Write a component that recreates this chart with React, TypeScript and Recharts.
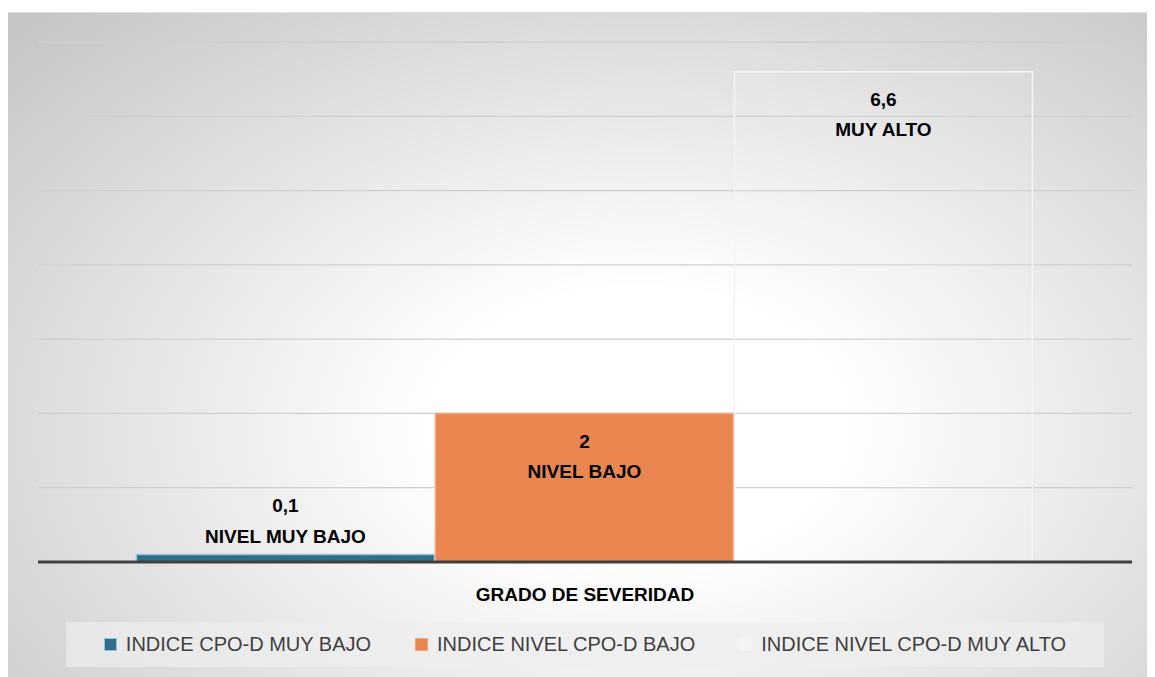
import React from "react";
import { BarChart, Bar, XAxis, YAxis, CartesianGrid, Legend, LabelList } from "recharts";

const categories = ["GRADO DE SEVERIDAD"];
const muyBajo = [0.1];
const bajo = [2];
const muyAlto = [6.6];
const yTicks = [0, 1, 2, 3, 4, 5, 6, 7];

const series = [
  { key: "muyBajo", name: "INDICE CPO-D MUY BAJO", level: "NIVEL MUY BAJO", fill: "#2e6f8e", stroke: "#9cc4d8", fillOpacity: 1 },
  { key: "bajo", name: "INDICE NIVEL CPO-D BAJO", level: "NIVEL BAJO", fill: "#eb8650", stroke: "#f2a67c", fillOpacity: 1 },
  { key: "muyAlto", name: "INDICE NIVEL CPO-D MUY ALTO", level: "MUY ALTO", fill: "#ffffff", stroke: "#f4f4f4", fillOpacity: 0.08 },
];

const data = categories.map((name, i) => ({
  name,
  muyBajo: muyBajo[i],
  bajo: bajo[i],
  muyAlto: muyAlto[i],
}));

const FONT = "'Liberation Sans', Arial, sans-serif";

// two-line label: value + level text; inside the top of tall bars, above short ones
const makeLabel = (level: string) => (props: any) => {
  const { x, y, width, height, value } = props;
  const cx = x + width / 2;
  const inside = height > 60;
  const y1 = inside ? y + 28 : y - 49;
  const y2 = inside ? y + 58 : y - 18;
  const txt = String(value).replace(".", ",");
  return (
    <g fontFamily={FONT} fontWeight="bold" fontSize={19} fill="#000">
      <text x={cx} y={y1} textAnchor="middle" dominantBaseline="central">{txt}</text>
      <text x={cx} y={y2} textAnchor="middle" dominantBaseline="central">{level}</text>
    </g>
  );
};

const renderLegend = () => (
  <div
    style={{
      width: 1038,
      height: 45,
      marginLeft: 28,
      background: "rgba(238,238,238,0.7)",
      display: "flex",
      alignItems: "center",
      justifyContent: "center",
      gap: 44,
      fontFamily: FONT,
      fontSize: 20,
      color: "#404040",
    }}
  >
    {series.map((s) => (
      <span key={s.key} style={{ display: "flex", alignItems: "center" }}>
        <span
          style={{
            display: "inline-block",
            width: 11,
            height: 11,
            marginRight: 9,
            background: s.key === "muyAlto" ? "rgba(255,255,255,0.3)" : s.fill,
            border: `1px solid ${s.stroke}`,
          }}
        />
        {s.name}
      </span>
    ))}
  </div>
);

export default function App() {
  return (
    <div
      style={{
        width: 1147,
        height: 665,
        marginTop: 4,
        background:
          "radial-gradient(ellipse 75% 85% at 55% 62%, #ffffff 0%, #ffffff 24%, #e4e4e4 60%, #c6c6c6 100%)",
        borderTop: "1px solid #e0e0e0",
      }}
    >
      <BarChart
        width={1147}
        height={665}
        data={data}
        margin={{ top: 29, right: 23, bottom: 0, left: 30 }}
        barCategoryGap="9%"
        barGap={1}
      >
        <CartesianGrid vertical={false} stroke="#cfcfcf" strokeWidth={1.3} />
        <YAxis hide domain={[0, 7]} ticks={yTicks} />
        <XAxis
          dataKey="name"
          axisLine={{ stroke: "#404040", strokeWidth: 3 }}
          tickLine={false}
          height={60}
          tick={{ fontFamily: FONT, fontWeight: "bold", fontSize: 19, fill: "#000", dy: 18 }}
        />
        <Legend verticalAlign="bottom" height={56} content={renderLegend} />
        {series.map((s) => (
          <Bar
            key={s.key}
            dataKey={s.key}
            name={s.name}
            fill={s.fill}
            fillOpacity={s.fillOpacity}
            stroke={s.stroke}
            strokeWidth={1.5}
            isAnimationActive={false}
          >
            <LabelList dataKey={s.key} content={makeLabel(s.level)} />
          </Bar>
        ))}
      </BarChart>
    </div>
  );
}
